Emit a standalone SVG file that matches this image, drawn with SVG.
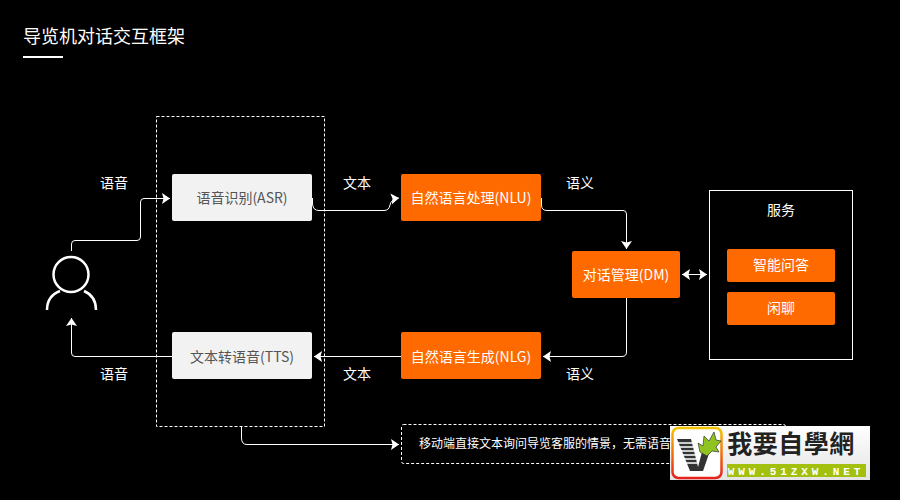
<svg xmlns="http://www.w3.org/2000/svg" width="900" height="500" viewBox="0 0 900 500">
<defs>
<marker id="tip" markerUnits="userSpaceOnUse" markerWidth="10" markerHeight="12" refX="8" refY="6" orient="auto-start-reverse"><path d="M0 0.500L8 6L0 11.500L1.500 6Z" fill="#fff"/></marker>
<linearGradient id="frame" x1="0" y1="0" x2="0" y2="1"><stop offset="0" stop-color="#f5c400"/><stop offset="1" stop-color="#e8201c"/></linearGradient>
<linearGradient id="fade" x1="0" y1="0" x2="0" y2="1"><stop offset="0" stop-color="#fff"/><stop offset="1" stop-color="#e4e4e4"/></linearGradient>
</defs>
<style>
text{font-family:"Noto Sans CJK SC","Noto Sans",sans-serif;font-size:14px;fill:#fff;text-anchor:middle}
.box{rx:2px;ry:2px}
.orange{fill:#ff6a00}
.grey{fill:#f2f2f2}
text.dark{fill:#555}
.line{fill:none;stroke:#fff;stroke-width:1;marker-end:url(#tip)}
.dash{fill:none;stroke:#fff;stroke-width:1;stroke-dasharray:3 2}
.stripe{stroke:#fff;stroke-width:1.500}
</style>
<rect width="900" height="500" fill="#000"/>
<g id="title"><text x="23" y="43" style="font-size:18px;text-anchor:start">导览机对话交互框架</text><rect x="23" y="56" width="40" height="2" fill="#fff"/></g>
<g id="connectors">
<path class="line" d="M71.500 251V244Q71.500 240.500 75 240.500H137Q140.500 240.500 140.500 237V202Q140.500 198.500 144 198.500H170"/>
<path class="line" d="M312.500 198V204Q313 210.500 319 210.500H384Q389 210.500 390 205Q391 199 399 198"/>
<path class="line" d="M541.500 198V205Q541.500 210.500 547 210.500H623Q626.500 210.500 626.500 214V249"/>
<path class="line" d="M626.500 298V352Q626.500 356.500 622 356.500H543"/>
<path class="line" d="M401 356.500H314"/>
<path class="line" d="M172 356.500H75Q71.500 356.500 71.500 353V318"/>
<path class="line" style="marker-start:url(#tip)" d="M682 274.500H707"/>
<path class="line" d="M241.500 427V438Q241.500 444.500 247 444.500H399"/>
</g>
<g id="dashed-group"><rect class="dash" x="156.500" y="116.500" width="168" height="310"/></g>
<g id="user" fill="none" stroke="#fff" stroke-width="2.500">
<circle cx="71" cy="274.500" r="17.500"/>
<path d="M47 310C47 300 52 294 60 291M96 310C96 300 91 294 84 291"/>
</g>
<g id="label-speech-in"><text x="114" y="188">语音</text></g>
<g id="label-speech-out"><text x="114" y="379">语音</text></g>
<g id="label-text-in"><text x="357" y="188">文本</text></g>
<g id="label-text-out"><text x="357" y="379">文本</text></g>
<g id="label-meaning-in"><text x="580" y="188">语义</text></g>
<g id="label-meaning-out"><text x="580" y="379">语义</text></g>
<g id="asr"><rect class="box grey" x="172" y="174" width="140" height="47"/><text class="dark" x="242" y="203">语音识别(ASR)</text></g>
<g id="tts"><rect class="box grey" x="172" y="332" width="140" height="47"/><text class="dark" x="242" y="362">文本转语音(TTS)</text></g>
<g id="nlu"><rect class="box orange" x="401" y="174" width="140" height="47"/><text x="471" y="203">自然语言处理(NLU)</text></g>
<g id="nlg"><rect class="box orange" x="401" y="332" width="140" height="47"/><text x="471" y="362">自然语言生成(NLG)</text></g>
<g id="dm"><rect class="box orange" x="572" y="251" width="108" height="47"/><text x="626" y="280">对话管理(DM)</text></g>
<g id="services"><rect x="709.500" y="190.500" width="143" height="169" fill="none" stroke="#fff"/><text x="781" y="215">服务</text></g>
<g id="smart-qa"><rect class="box orange" x="727" y="249" width="108" height="33"/><text x="781" y="270">智能问答</text></g>
<g id="chat"><rect class="box orange" x="727" y="292" width="108" height="33"/><text x="781" y="313">闲聊</text></g>
<g id="mobile-note"><rect class="dash" x="401.500" y="424.500" width="384" height="39" rx="2"/><text x="419" y="448" style="font-size:12px;text-anchor:start">移动端直接文本询问导览客服的情景，无需语音</text></g>
<g id="badge">
<rect x="670" y="426" width="200" height="54" fill="url(#fade)"/>
<rect x="672.500" y="428" width="49" height="50" rx="6" fill="#fff" stroke="url(#frame)" stroke-width="2.500"/>
<path d="M677 439H691L699 471H690Z" fill="#333"/><path d="M697 471L703 448H711L703 471Z" fill="#333"/>
<path class="stripe" d="M677 443H692M678 447H693M679 451H694M680 455H695M681 459H696M682 463H697"/>
<path d="M700 452L698 443L703 446L704 436L709 441L714 432L716 440L721 441L716 447L719 452L712 451L707 456Z" fill="#8fc31f" stroke="#333" stroke-width=".7"/>
<text x="791" y="453" style="font-size:25px;font-weight:700;fill:#222;font-family:'Noto Sans CJK TC',sans-serif;letter-spacing:.5px">我要自學網</text>
<rect x="727" y="464" width="139" height="13" fill="#a4c00e"/>
<text x="796" y="474.500" style="font-size:11px;font-weight:700;font-family:'Liberation Mono',monospace;letter-spacing:3.900px">WWW.51ZXW.NET</text>
</g>
</svg>
